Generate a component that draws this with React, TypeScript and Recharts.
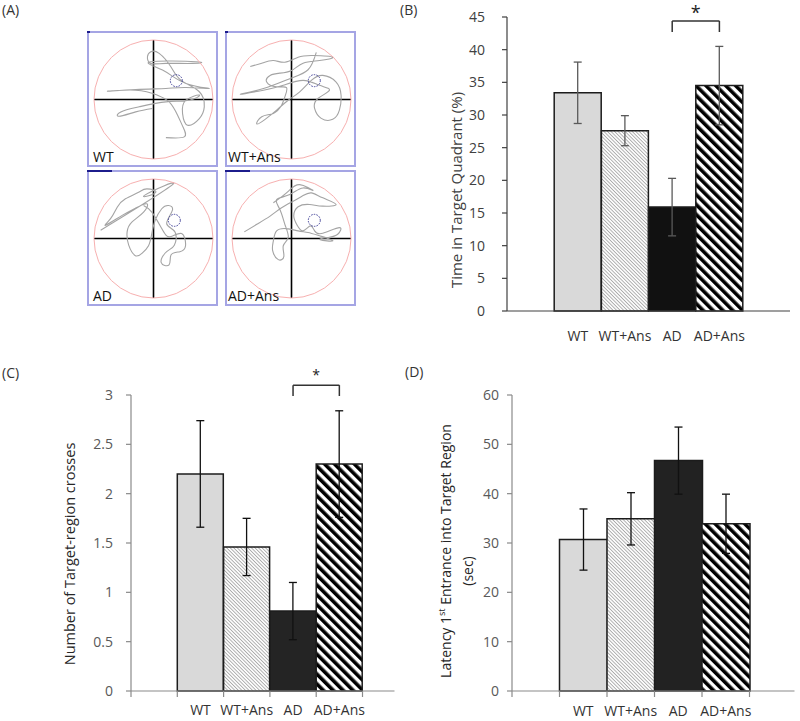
import React from "react";
import {
  BarChart,
  Bar,
  XAxis,
  YAxis,
  ErrorBar,
  Cell,
  ReferenceLine,
  ReferenceDot,
  LineChart,
  Line,
} from "recharts";

const FONT = "'Open Sans', sans-serif";

// groups (first slot is the empty band Excel leaves left of the bars)
const groups = ["", "WT", "WT+Ans", "AD", "AD+Ans"];

// (B) time in target quadrant (%)
const quadrantTime = [null, 33.4, 27.6, 15.9, 34.5];
const quadrantErr = [null, 4.7, 2.3, 4.4, 6.0];
const quadrantTicks = [0, 5, 10, 15, 20, 25, 30, 35, 40, 45];

// (C) number of target-region crosses
const crosses = [null, 2.2, 1.46, 0.81, 2.3];
const crossesErr = [null, 0.54, 0.29, 0.29, 0.54];
const crossesTicks = [0, 0.5, 1, 1.5, 2, 2.5, 3];

// (D) latency of 1st entrance into target region (sec)
const latency = [null, 30.7, 34.9, 46.7, 33.9];
const latencyErr = [null, 6.2, 5.3, 6.8, 6.0];
const latencyTicks = [0, 10, 20, 30, 40, 50, 60];

// (A) swim paths, pool coords (radius 60, centre 0,0)
const wtPath = [
  [12.5, -38.4], [31.0, -37.7], [30.0, -28.3], [24.3, -15.8], [15.8, -2.4], [4.0, 4.4],
  [-17.9, 9.4], [-46.5, 8.4], [-17.9, 10.1], [12.5, 11.1], [32.7, 12.1], [56.3, 11.1],
  [32.7, 16.2], [9.1, 29.7], [-2.7, 38.1], [42.8, 38.1], [39.4, 36.4], [12.5, 36.4],
  [-2.7, 36.4], [-6.1, 43.1], [-2.7, 48.2], [5.7, 46.5], [17.5, 33.0], [27.6, 19.5],
  [46.2, 7.8], [51.2, -7.4], [46.2, -19.2], [34.4, -25.9], [29.3, -14.2], [32.7, -0.7],
  [46.2, 4.4], [36.1, -0.7], [12.5, -2.4], [-14.5, -7.4], [-33.0, -12.5], [-34.7, -16.9],
  [-17.9, -12.5], [-1.0, -9.1],
];
const wtAnsPath = [
  [-41.6, 33.3], [-30.0, 36.6], [-18.3, 39.3], [-6.7, 37.6], [6.7, 42.6], [21.6, 44.3],
  [41.6, 42.6], [28.3, 39.3], [11.7, 36.6], [0, 29.3], [-11.7, 26.6], [-21.6, 24.3],
  [-25.0, 17.6], [-15.0, 12.7], [-5.0, 12.0], [-6.7, 2.7], [-10.0, -5.7], [-18.3, -14.0],
  [-30.0, -17.3], [-35.0, -24.6], [-26.6, -20.0], [-15.0, -10.7], [-3.3, -0.7], [8.3, 7.7],
  [20.0, 19.3], [31.6, 24.3], [45.0, 17.6], [50.0, 4.3], [48.3, -10.7], [41.6, -20.0],
  [30.0, -19.0], [23.3, -9.0], [26.6, 1.0], [38.3, 9.3], [28.3, 14.3], [11.7, 19.3],
  [-8.3, 14.3], [-28.3, 9.3], [-51.6, 5.3], [-28.3, 11.0], [-1.7, 21.0], [16.7, 30.0],
  [25.0, 47.6],
];
const adPath = [
  [-53.3, 8.3], [20.0, 55.0], [-8.3, 44.0], [1.7, 46.0], [-6.7, 50.0], [-15.0, 46.6],
  [-28.3, 40.0], [-36.6, 31.6], [-43.3, 20.0], [-48.3, 13.3], [-31.6, 23.3], [-18.3, 30.6],
  [-6.7, 35.0], [-10.0, 26.6], [-21.6, 16.7], [-26.6, 6.7], [-25.0, -6.7], [-18.3, -17.3],
  [-11.7, -15.0], [-5.0, -7.3], [-1.7, 5.0], [1.7, 18.3], [8.3, 30.0], [15.0, 33.3],
  [19.0, 28.3], [13.3, 15.0], [21.6, 6.7], [21.0, -6.7], [13.3, -13.3], [7.7, -24.0],
  [15.7, -26.6], [17.6, -16.7], [26.6, -13.3], [32.3, -7.3], [28.3, 5.0], [16.7, 1.7],
  [8.3, 10.0], [-1.7, 26.6], [-10.0, 33.3],
];
const adAnsPath = [
  [-47.6, 6.7], [-35.0, 14.3], [-21.6, 22.6], [-10.0, 31.0], [1.7, 37.6], [11.7, 43.3],
  [20.0, 46.0], [31.6, 41.0], [45.0, 34.3], [31.6, 32.6], [18.3, 34.3], [6.7, 32.0],
  [2.3, 22.6], [5.7, 13.3], [11.7, 7.7], [19.0, 12.7], [23.3, 7.7], [31.6, 5.3],
  [48.3, 11.0], [46.6, 4.3], [36.6, 1.0], [29.0, -1.3], [41.6, -2.3], [28.3, 2.7],
  [16.7, 6.0], [6.7, 7.7], [-5.0, 10.0], [-15.0, 7.7], [-18.3, -2.3], [-19.0, -12.3],
  [-13.3, -21.3], [-7.7, -18.0], [-8.3, -7.3], [-3.3, 1.0], [-6.7, 14.3], [-11.7, 29.3],
  [-15.0, 39.3], [-1.7, 44.3], [11.7, 51.0], [21.6, 48.6], [8.3, 54.3], [-3.3, 47.6],
  [-18.3, 36.0],
];

// hidden platform position per pool
const platforms = [[23, 19], [23, 19], [21, 18.3], [23, 18.3]];

const pools = [
  { name: "WT", path: wtPath, left: 87, top: 31, bar: 3 },
  { name: "WT+Ans", path: wtAnsPath, left: 225, top: 31, bar: 3 },
  { name: "AD", path: adPath, left: 87, top: 170, bar: 25 },
  { name: "AD+Ans", path: adAnsPath, left: 225, top: 170, bar: 25 },
];

const toRows = (vals: (number | null)[], errs: (number | null)[]) =>
  groups.map((g, i) => ({ group: g, value: vals[i], err: errs[i] }));

function Pool({ pool, idx }: { pool: any; idx: number }) {
  const pts = pool.path.map(([x, y]: number[]) => ({ x, y }));
  const [px, py] = platforms[idx];
  return (
    <div style={{ position: "absolute", left: pool.left, top: pool.top, width: 131, height: 136 }}>
      <LineChart width={131} height={136} data={pts} margin={{ top: 9, right: 5, bottom: 8, left: 7 }}>
        <XAxis type="number" dataKey="x" domain={[-60, 60]} hide />
        <YAxis type="number" domain={[-60, 60]} hide />
        <ReferenceDot x={0} y={0} r={59.5} fill="none" stroke="#f7b0b0" strokeWidth={1} />
        <ReferenceLine x={0} stroke="#000" strokeWidth={1.6} />
        <ReferenceLine y={0} stroke="#000" strokeWidth={1.6} />
        <Line
          dataKey="y"
          type="natural"
          stroke="#a4a4a4"
          strokeWidth={1.1}
          strokeLinejoin="round"
          dot={false}
          isAnimationActive={false}
        />
        <ReferenceDot x={px} y={py} r={6} fill="none" stroke="#3d3d96" strokeWidth={1} strokeDasharray="1.5 1.2" />
      </LineChart>
      <div
        style={{
          position: "absolute", left: 0, top: 0, width: 131, height: 136,
          boxSizing: "border-box", border: "2px solid #a5a5e4", pointerEvents: "none",
        }}
      />
      <div style={{ position: "absolute", left: 0, top: 0, width: pool.bar, height: 2, background: "#1c1c8c" }} />
      <div
        style={{
          position: "absolute", left: idx % 2 === 0 ? 6 : 3, top: 119, fontFamily: FONT,
          fontSize: 14, lineHeight: "14px", color: "#111",
        }}
      >
        {pool.name}
      </div>
    </div>
  );
}

function CategoryTick(props: any) {
  const { x, y, payload, index, band, dy, color, marks, markColor } = props;
  const label = String(payload.value).trim();
  const last = index === groups.length - 1;
  return (
    <g>
      {marks && <line x1={x - band / 2} x2={x - band / 2} y1={y} y2={y + 6} stroke={markColor} strokeWidth={1.2} />}
      {marks && last && (
        <line x1={x + band / 2} x2={x + band / 2} y1={y} y2={y + 6} stroke={markColor} strokeWidth={1.2} />
      )}
      {label && (
        <text x={x} y={y + dy} textAnchor="middle" fill={color} fontSize={14} fontFamily={FONT}>
          {label}
        </text>
      )}
    </g>
  );
}

function BarPanel(props: any) {
  const {
    id, left, top, width, height, margin, data, ticks, domain, axisColor, textColor,
    tickMargin, band, padRight, marks, labelDy, errColor, darkFill, bracket, starSize, starOffset,
  } = props;
  const fills = ["none", "#d9d9d9", `url(#${id}-fine)`, darkFill, `url(#${id}-wide)`];
  return (
    <div style={{ position: "absolute", left, top }}>
      <BarChart width={width} height={height} data={data} margin={margin} barCategoryGap={0} barGap={0}>
        <defs>
          <pattern id={`${id}-fine`} patternUnits="userSpaceOnUse" width={2.5} height={2.5} patternTransform="rotate(-45)">
            <rect width={2.5} height={2.5} fill="#fff" />
            <line x1={1.25} y1={0} x2={1.25} y2={2.5} stroke="#a8a8a8" strokeWidth={0.9} />
          </pattern>
          <pattern id={`${id}-wide`} patternUnits="userSpaceOnUse" width={7} height={7} patternTransform="rotate(-45)">
            <rect width={7} height={7} fill="#fff" />
            <rect x={0} y={0} width={3.6} height={7} fill="#000" />
          </pattern>
        </defs>
        <XAxis
          dataKey="group"
          height={30}
          interval={0}
          padding={{ left: 0, right: padRight }}
          tickLine={false}
          tickSize={0}
          tickMargin={0}
          axisLine={{ stroke: axisColor, strokeWidth: 1.2 }}
          tick={(p: any) => (
            <CategoryTick {...p} band={band} dy={labelDy} color="#333" marks={marks} markColor={axisColor} />
          )}
        />
        <YAxis
          type="number"
          width={60}
          domain={domain}
          ticks={ticks}
          interval={0}
          tickSize={5}
          tickMargin={tickMargin}
          axisLine={{ stroke: axisColor, strokeWidth: 1.2 }}
          tickLine={{ stroke: axisColor, strokeWidth: 1.2 }}
          tick={{ fill: textColor, fontSize: 14, fontFamily: FONT }}
        />
        <Bar dataKey="value" stroke="#1c1c1c" strokeWidth={1.5} isAnimationActive={false}>
          {data.map((_: any, i: number) => (
            <Cell key={i} fill={fills[i]} />
          ))}
          <ErrorBar dataKey="err" width={4} stroke={errColor} strokeWidth={1.3} />
        </Bar>
        {bracket && (
          <ReferenceLine
            segment={[{ x: "AD", y: bracket[0] }, { x: "AD+Ans", y: bracket[0] }]}
            stroke="#333"
            strokeWidth={1.5}
            ifOverflow="visible"
            label={{ value: "*", position: "top", offset: starOffset, fill: "#222", fontSize: starSize, fontFamily: FONT }}
          />
        )}
        {bracket && (
          <ReferenceLine
            segment={[{ x: "AD", y: bracket[0] }, { x: "AD", y: bracket[1] }]}
            stroke="#333"
            strokeWidth={1.5}
            ifOverflow="visible"
          />
        )}
        {bracket && (
          <ReferenceLine
            segment={[{ x: "AD+Ans", y: bracket[0] }, { x: "AD+Ans", y: bracket[1] }]}
            stroke="#333"
            strokeWidth={1.5}
            ifOverflow="visible"
          />
        )}
      </BarChart>
    </div>
  );
}

const panelLabel = (text: string, left: number, top: number) => (
  <div
    style={{
      position: "absolute", left, top, fontFamily: FONT, fontSize: 14,
      lineHeight: "14px", color: "#333",
    }}
  >
    {text}
  </div>
);

const yTitle = (content: React.ReactNode, cx: number, cy: number, size: number, color: string) => (
  <div
    style={{
      position: "absolute", left: cx, top: cy, fontFamily: FONT, fontSize: size,
      lineHeight: `${size + 2}px`, color, whiteSpace: "nowrap",
      transform: "translate(-50%, -50%) rotate(-90deg)",
    }}
  >
    {content}
  </div>
);

export default function App() {
  return (
    <div style={{ position: "absolute", left: 0, top: 0, width: 800, height: 721, background: "#fff", overflow: "hidden" }}>
      {panelLabel("(A)", 2, 3)}
      {panelLabel("(B)", 400, 3)}
      {panelLabel("(C)", 2, 366)}
      {panelLabel("(D)", 405, 365)}

      {pools.map((p, i) => (
        <Pool key={p.name} pool={p} idx={i} />
      ))}

      <BarPanel
        id="b"
        left={400}
        top={0}
        width={400}
        height={345}
        margin={{ top: 17, right: 10, bottom: 4, left: 47 }}
        data={toRows(quadrantTime, quadrantErr)}
        ticks={quadrantTicks}
        domain={[0, 45]}
        axisColor="#404040"
        textColor="#404040"
        tickMargin={17}
        band={47.2}
        padRight={47}
        marks={false}
        labelDy={30}
        errColor="#5a5a5a"
        darkFill="#111"
        bracket={[44.4, 42.7]}
        starSize={18}
        starOffset={2}
      />
      {yTitle("Time in Target Quadrant (%)", 456, 190, 15, "#404040")}

      <BarPanel
        id="c"
        left={0}
        top={330}
        width={420}
        height={391}
        margin={{ top: 65, right: 25.5, bottom: 0, left: 71 }}
        data={toRows(crosses, crossesErr)}
        ticks={crossesTicks}
        domain={[0, 3]}
        axisColor="#8a8a8a"
        textColor="#595959"
        tickMargin={13}
        band={46.3}
        padRight={32}
        marks={true}
        labelDy={24}
        errColor="#111"
        darkFill="#242424"
        bracket={[3.1, 2.99]}
        starSize={14}
        starOffset={5}
      />
      {yTitle("Number of Target-region crosses", 70, 554, 14.5, "#262626")}

      <BarPanel
        id="d"
        left={400}
        top={330}
        width={400}
        height={391}
        margin={{ top: 65, right: 5.5, bottom: 0, left: 52 }}
        data={toRows(latency, latencyErr)}
        ticks={latencyTicks}
        domain={[0, 60]}
        axisColor="#8a8a8a"
        textColor="#595959"
        tickMargin={8}
        band={47.5}
        padRight={45}
        marks={true}
        labelDy={25}
        errColor="#111"
        darkFill="#222"
        bracket={null}
        starSize={14}
        starOffset={2}
      />
      {yTitle(
        <span>
          Latency 1<sup style={{ fontSize: 9, lineHeight: 0 }}>st</sup> Entrance into Target Region
        </span>,
        446, 551, 14, "#262626"
      )}
      {yTitle("(sec)", 468, 571, 14, "#262626")}
    </div>
  );
}
